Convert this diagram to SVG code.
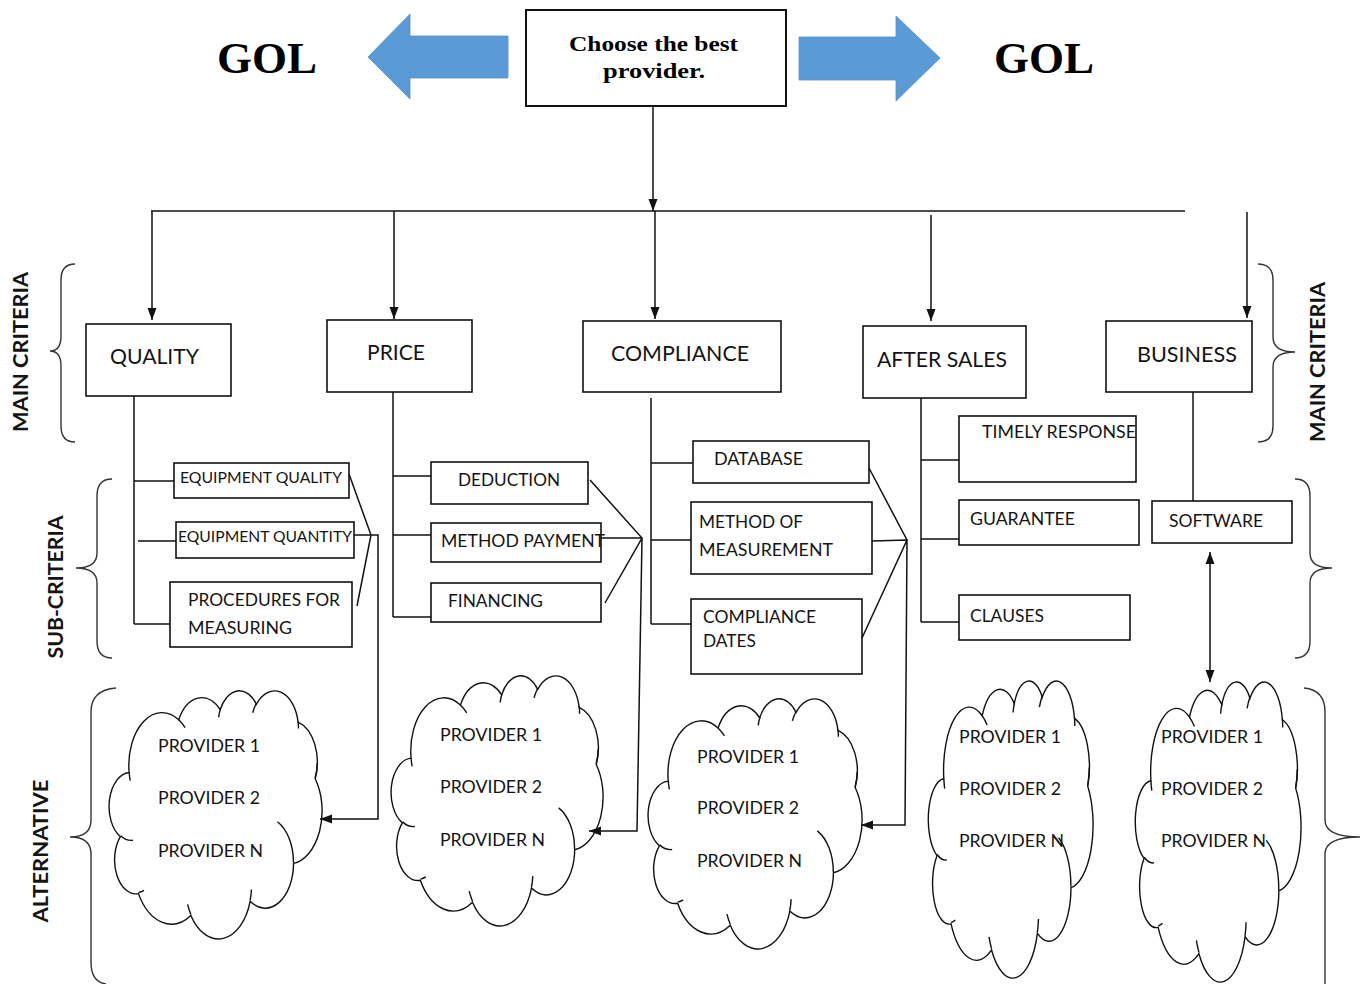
<svg xmlns="http://www.w3.org/2000/svg" xmlns:xlink="http://www.w3.org/1999/xlink" width="1363" height="984" viewBox="0 0 1363 984">
<style>
.box{fill:#fff;stroke:#111;stroke-width:1.6}
.ln{fill:none;stroke:#111;stroke-width:1.5}
.br{fill:none;stroke:#333;stroke-width:1.4}
.t{font-family:Lato,"Open Sans",sans-serif;fill:#141414}
.m{font-size:21px}
.s{font-size:17px}
.p{font-size:17.5px}
.v{font-family:Lato,"Open Sans",sans-serif;font-weight:bold;font-size:21px;fill:#141414}
.g{font-family:"Liberation Serif","Times New Roman",serif;font-weight:bold;fill:#000}
.blue{fill:#5B9BD5;stroke:#5590cc;stroke-width:0.8}
.cloud{fill:#fff;stroke:#111;stroke-width:1.4}
.cin{fill:none;stroke:#111;stroke-width:1.4}
</style>
<defs>
<marker id="ah" markerUnits="userSpaceOnUse" markerWidth="12" markerHeight="12" viewBox="0 0 12 12" refX="12" refY="6" orient="auto-start-reverse">
<path d="M0,1.5 L12,6 L0,10.5 Z" fill="#111"/>
</marker>
<g id="cl">
<path class="cloud" vector-effect="non-scaling-stroke" d="M9.03,33.26 A15.63,21.27 0 0 1 32.42,12.04 A12.34,16.82 0 0 1 51.98,7.95 A10.10,13.76 0 0 1 69.06,5.75 A11.24,15.27 0 0 1 88.70,12.92 A12.34,16.84 0 0 1 96.80,35.80 A15.68,21.34 0 0 1 86.58,69.92 A13.39,18.21 0 0 1 66.10,85.22 A15.63,21.33 0 0 1 38.15,90.90 A17.87,24.41 0 0 1 13.43,82.11 A10.09,13.70 0 0 1 4.89,59.14 A10.06,13.76 0 0 1 9.03,33.26 Z"/>
<path class="cin" vector-effect="non-scaling-stroke" d="M10.86,60.60 A10.06,13.76 0 0 1 5.00,58.75 M16.04,80.78 A10.09,13.70 0 0 1 13.47,81.67 M38.14,90.49 A15.63,21.33 0 0 1 36.60,86.46 M66.73,80.44 A15.63,21.33 0 0 1 66.11,84.86 M79.00,53.13 A13.39,18.21 0 0 1 86.53,69.65 M96.75,35.54 A12.34,16.84 0 0 0 97.75,29.46 M88.71,12.56 A11.24,15.27 0 0 1 88.89,15.49 M67.31,9.15 A11.24,15.27 0 0 1 69.03,5.41 M51.25,10.93 A10.10,13.76 0 0 1 52.08,7.71 M32.41,12.02 A15.63,21.27 0 0 1 35.42,15.14 M9.55,36.55 A15.63,21.27 0 0 1 9.03,33.26"/>
</g>
</defs>
<rect width="1363" height="984" fill="#fff"/>

<!-- Goal -->
<g id="goal">
<rect class="box" x="526" y="10" width="260" height="96" style="stroke-width:2"/>
<text class="g" x="569" y="51" font-size="22" textLength="169" lengthAdjust="spacingAndGlyphs">Choose the best</text>
<text class="g" x="603" y="78" font-size="22" textLength="102" lengthAdjust="spacingAndGlyphs">provider.</text>
</g>
<g id="gol-left">
<polygon class="blue" points="508,36 410,36 410,14 368,57 410,99 410,78 508,78"/>
<text class="g" x="267" y="73" font-size="45" text-anchor="middle">GOL</text>
</g>
<g id="gol-right">
<polygon class="blue" points="799,37 896,37 896,16 940,58 896,101 896,80 799,80"/>
<text class="g" x="1044" y="73" font-size="45" text-anchor="middle">GOL</text>
</g>

<!-- Level labels and braces -->
<g id="label-main-left">
<path class="br" d="M75,264 Q61,264 61,280 L61,336 Q61,351 50,351 Q61,351 61,366 L61,426 Q61,442 75,442"/>
<text class="v" transform="translate(28,352) rotate(-90)" text-anchor="middle" textLength="160" lengthAdjust="spacingAndGlyphs">MAIN CRITERIA</text>
</g>
<g id="label-sub-left">
<path class="br" d="M112,479 Q97,479 97,496 L97,553 Q97,568 76,568 Q97,568 97,583 L97,641 Q97,658 112,658"/>
<text class="v" transform="translate(63,587) rotate(-90)" text-anchor="middle" textLength="143" lengthAdjust="spacingAndGlyphs">SUB-CRITERIA</text>
</g>
<g id="label-alt-left">
<path class="br" d="M116,688 Q91,690 91,712 L91,820 Q91,837 70,837 Q91,837 91,854 L91,962 Q91,982 106,984"/>
<text class="v" transform="translate(48,851) rotate(-90)" text-anchor="middle" textLength="143" lengthAdjust="spacingAndGlyphs">ALTERNATIVE</text>
</g>
<g id="label-main-right">
<path class="br" d="M1258,264 Q1273,264 1273,280 L1273,337 Q1273,352 1295,352 Q1273,352 1273,367 L1273,426 Q1273,442 1258,442"/>
<text class="v" transform="translate(1325,362) rotate(-90)" text-anchor="middle" textLength="160" lengthAdjust="spacingAndGlyphs">MAIN CRITERIA</text>
</g>
<g id="label-sub-right">
<path class="br" d="M1295,479 Q1310,479 1310,496 L1310,553 Q1310,568 1332,568 Q1310,568 1310,583 L1310,641 Q1310,658 1295,658"/>
</g>
<g id="label-alt-right">
<path class="br" d="M1304,688 Q1325,690 1325,712 L1325,820 Q1325,837 1360,837 Q1325,837 1325,854 L1325,984"/>
</g>

<!-- Main criteria -->
<g id="quality"><rect class="box" x="86" y="324" width="145" height="72"/><text class="t m" x="110" y="364" textLength="89" lengthAdjust="spacingAndGlyphs">QUALITY</text></g>
<g id="price"><rect class="box" x="327" y="320" width="145" height="72"/><text class="t m" x="367" y="360" textLength="58" lengthAdjust="spacingAndGlyphs">PRICE</text></g>
<g id="compliance"><rect class="box" x="583" y="321" width="198" height="71"/><text class="t m" x="611" y="361" textLength="138" lengthAdjust="spacingAndGlyphs">COMPLIANCE</text></g>
<g id="after-sales"><rect class="box" x="863" y="326" width="163" height="72"/><text class="t m" x="877" y="367" textLength="130" lengthAdjust="spacingAndGlyphs">AFTER SALES</text></g>
<g id="business"><rect class="box" x="1106" y="321" width="146" height="71"/><text class="t m" x="1137" y="362" textLength="100" lengthAdjust="spacingAndGlyphs">BUSINESS</text></g>

<!-- Sub-criteria -->
<g id="equipment-quality"><rect class="box" x="174" y="463" width="175" height="35"/><text class="t" font-size="16" x="180" y="483" textLength="162" lengthAdjust="spacingAndGlyphs">EQUIPMENT QUALITY</text></g>
<g id="equipment-quantity"><rect class="box" x="176" y="522" width="178" height="36"/><text class="t" font-size="16" x="178" y="542" textLength="174" lengthAdjust="spacingAndGlyphs">EQUIPMENT QUANTITY</text></g>
<g id="procedures"><rect class="box" x="170" y="582" width="182" height="65"/><text class="t s" x="188" y="606" textLength="152" lengthAdjust="spacingAndGlyphs">PROCEDURES FOR</text><text class="t s" x="188" y="634" textLength="104" lengthAdjust="spacingAndGlyphs">MEASURING</text></g>
<g id="deduction"><rect class="box" x="431" y="462" width="157" height="42"/><text class="t s" x="458" y="486" textLength="102" lengthAdjust="spacingAndGlyphs">DEDUCTION</text></g>
<g id="method-payment"><rect class="box" x="431" y="523" width="170" height="39"/><text class="t s" x="441" y="547" textLength="164" lengthAdjust="spacingAndGlyphs">METHOD PAYMENT</text></g>
<g id="financing"><rect class="box" x="431" y="583" width="170" height="39"/><text class="t s" x="448" y="607" textLength="95" lengthAdjust="spacingAndGlyphs">FINANCING</text></g>
<g id="database"><rect class="box" x="693" y="441" width="176" height="42"/><text class="t s" x="714" y="465" textLength="89" lengthAdjust="spacingAndGlyphs">DATABASE</text></g>
<g id="method-measurement"><rect class="box" x="691" y="502" width="181" height="72"/><text class="t s" x="699" y="528" textLength="104" lengthAdjust="spacingAndGlyphs">METHOD OF</text><text class="t s" x="699" y="556" textLength="134" lengthAdjust="spacingAndGlyphs">MEASUREMENT</text></g>
<g id="compliance-dates"><rect class="box" x="691" y="599" width="171" height="75"/><text class="t s" x="703" y="623" textLength="113" lengthAdjust="spacingAndGlyphs">COMPLIANCE</text><text class="t s" x="703" y="647" textLength="53" lengthAdjust="spacingAndGlyphs">DATES</text></g>
<g id="timely-response"><rect class="box" x="959" y="416" width="177" height="66"/><text class="t s" x="982" y="438" textLength="154" lengthAdjust="spacingAndGlyphs">TIMELY RESPONSE</text></g>
<g id="guarantee"><rect class="box" x="959" y="500" width="180" height="45"/><text class="t s" x="970" y="525" textLength="105" lengthAdjust="spacingAndGlyphs">GUARANTEE</text></g>
<g id="clauses"><rect class="box" x="959" y="595" width="171" height="45"/><text class="t s" x="970" y="622" textLength="74" lengthAdjust="spacingAndGlyphs">CLAUSES</text></g>
<g id="software"><rect class="box" x="1152" y="501" width="140" height="42"/><text class="t s" x="1169" y="527" textLength="94" lengthAdjust="spacingAndGlyphs">SOFTWARE</text></g>

<!-- Alternatives -->
<g id="alt-quality">
<use xlink:href="#cl" href="#cl" transform="translate(110,690) scale(2.12,2.48)"/>
<text class="t p" x="158" y="752" textLength="102" lengthAdjust="spacingAndGlyphs">PROVIDER 1</text>
<text class="t p" x="158" y="804" textLength="102" lengthAdjust="spacingAndGlyphs">PROVIDER 2</text>
<text class="t p" x="158" y="857" textLength="105" lengthAdjust="spacingAndGlyphs">PROVIDER N</text>
</g>
<g id="alt-price">
<use xlink:href="#cl" href="#cl" transform="translate(392,675) scale(2.11,2.5)"/>
<text class="t p" x="440" y="741" textLength="102" lengthAdjust="spacingAndGlyphs">PROVIDER 1</text>
<text class="t p" x="440" y="793" textLength="102" lengthAdjust="spacingAndGlyphs">PROVIDER 2</text>
<text class="t p" x="440" y="846" textLength="105" lengthAdjust="spacingAndGlyphs">PROVIDER N</text>
</g>
<g id="alt-compliance">
<use xlink:href="#cl" href="#cl" transform="translate(649,698) scale(2.13,2.5)"/>
<text class="t p" x="697" y="763" textLength="102" lengthAdjust="spacingAndGlyphs">PROVIDER 1</text>
<text class="t p" x="697" y="814" textLength="102" lengthAdjust="spacingAndGlyphs">PROVIDER 2</text>
<text class="t p" x="697" y="867" textLength="105" lengthAdjust="spacingAndGlyphs">PROVIDER N</text>
</g>
<g id="alt-after-sales">
<use xlink:href="#cl" href="#cl" transform="translate(929,680) scale(1.64,2.97)"/>
<text class="t p" x="959" y="743" textLength="102" lengthAdjust="spacingAndGlyphs">PROVIDER 1</text>
<text class="t p" x="959" y="795" textLength="102" lengthAdjust="spacingAndGlyphs">PROVIDER 2</text>
<text class="t p" x="959" y="847" textLength="105" lengthAdjust="spacingAndGlyphs">PROVIDER N</text>
</g>
<g id="alt-business">
<use xlink:href="#cl" href="#cl" transform="translate(1136,681) scale(1.65,3.0)"/>
<text class="t p" x="1161" y="743" textLength="102" lengthAdjust="spacingAndGlyphs">PROVIDER 1</text>
<text class="t p" x="1161" y="795" textLength="102" lengthAdjust="spacingAndGlyphs">PROVIDER 2</text>
<text class="t p" x="1161" y="847" textLength="105" lengthAdjust="spacingAndGlyphs">PROVIDER N</text>
</g>

<!-- Connectors -->
<g id="connectors">
<path class="ln" d="M653,106 L653,211" marker-end="url(#ah)"/>
<path class="ln" d="M151,211 L1185,211"/>
<path class="ln" d="M152,211 L152,320" marker-end="url(#ah)"/>
<path class="ln" d="M394,211 L394,319" marker-end="url(#ah)"/>
<path class="ln" d="M655,211 L655,319" marker-end="url(#ah)"/>
<path class="ln" d="M931,215 L931,321" marker-end="url(#ah)"/>
<path class="ln" d="M1247,212 L1247,318" marker-end="url(#ah)"/>

<path class="ln" d="M134,396 L134,624 M134,481 L174,481 M138,541 L176,541 M134,624 L170,624"/>
<path class="ln" d="M349,474 L371,535 L357,606 M354,535 L378,535 L378,819 L320,819" marker-end="url(#ah)"/>

<path class="ln" d="M393,392 L393,617 M393,476 L431,476 M393,535 L431,535 M393,617 L431,617"/>
<path class="ln" d="M590,480 L642,538 L605,603 M601,538 L642,538 L637,831 L589,831" marker-end="url(#ah)"/>

<path class="ln" d="M651,398 L651,624 M651,463 L693,463 M651,540 L691,540 M651,624 L691,624"/>
<path class="ln" d="M869,468 L907,540 L862,638 M872,541 L907,540 L905,825 L861,825" marker-end="url(#ah)"/>

<path class="ln" d="M921,398 L921,622 M921,460 L959,460 M921,539 L959,539 M921,622 L959,622"/>

<path class="ln" d="M1193,392 L1193,501"/>
<path class="ln" d="M1210,552 L1210,682" marker-start="url(#ah)" marker-end="url(#ah)"/>
</g>
</svg>
